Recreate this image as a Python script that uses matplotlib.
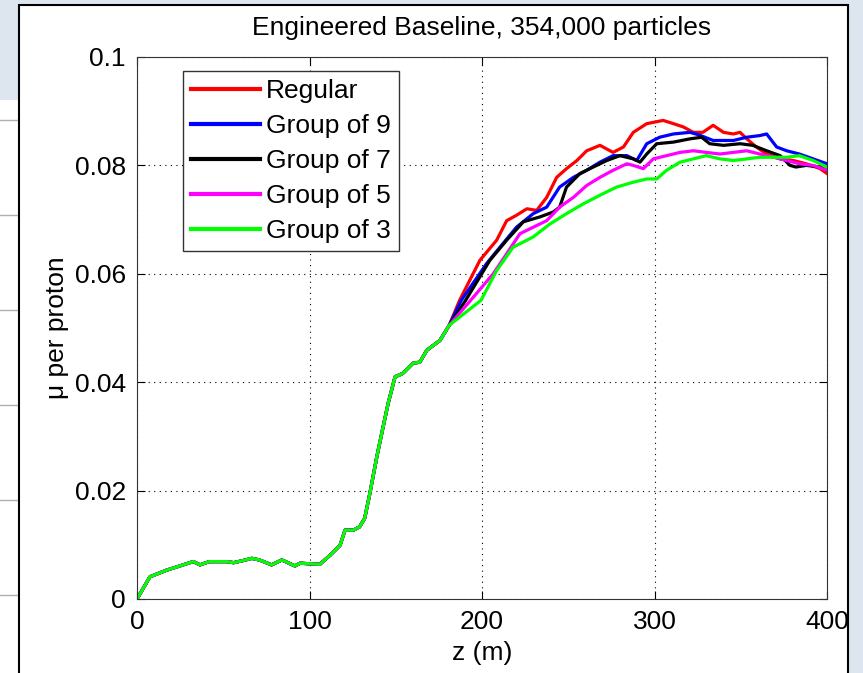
import matplotlib.pyplot as plt
import matplotlib.patches as patches

plt.rcParams['font.family'] = ['Liberation Sans', 'DejaVu Sans']

# shared part of every curve (all runs identical before ~z=175 m)
z_common = [0, 7.5, 17, 32.6, 36.5, 42, 52, 56, 61.6, 66.5, 71, 78, 84, 91.6, 94.5, 106,
            112, 117.7, 120.6, 125.4, 129, 132, 135, 139, 142.7, 145.6, 149.6, 154, 160,
            164, 168, 175.6, 181]
y_common = [0, 0.0041, 0.0053, 0.0069, 0.0063, 0.0069, 0.0069, 0.0067, 0.0071, 0.0075,
            0.0072, 0.0063, 0.0072, 0.0061, 0.0066, 0.0064, 0.0081, 0.0099, 0.0127, 0.0127,
            0.0133, 0.0149, 0.0195, 0.0262, 0.0318, 0.0361, 0.0410, 0.0416, 0.0435, 0.0437,
            0.0459, 0.0477, 0.0505]

z_regular = [187, 198.8, 208.5, 214.3, 220, 226, 231.7, 237.5, 243.3, 249, 255, 260.7, 268.4,
             276, 282, 287.7, 295.5, 305, 311, 316.7, 322.5, 328, 334, 340, 345.7, 349.6,
             353.5, 359, 365, 372.8, 380.5, 388, 396, 400]
y_regular = [0.0551, 0.0625, 0.0662, 0.0698, 0.0708, 0.0720, 0.0717, 0.0741, 0.0778, 0.0794,
             0.0809, 0.0827, 0.0837, 0.0824, 0.0834, 0.0861, 0.0877, 0.0883, 0.0877, 0.0871,
             0.0861, 0.0861, 0.0874, 0.0861, 0.0858, 0.0861, 0.0849, 0.0834, 0.0821, 0.0812,
             0.0809, 0.0803, 0.0794, 0.0785]

z_g9 = [188, 202.7, 210.4, 220, 229.7, 237.5, 245, 253, 260.7, 268.4, 276, 284, 289.7, 295.5,
        303, 311, 320.6, 326, 334, 345.7, 353.5, 361, 365, 370.8, 376.6, 384, 392, 400]
y_g9 = [0.0551, 0.0619, 0.0649, 0.0686, 0.0711, 0.0723, 0.0760, 0.0778, 0.0791, 0.0806,
        0.0818, 0.0818, 0.0809, 0.0840, 0.0852, 0.0858, 0.0861, 0.0856, 0.0846, 0.0846,
        0.0852, 0.0855, 0.0858, 0.0834, 0.0827, 0.0821, 0.0812, 0.0803]

z_g7 = [190.5, 204.6, 214.3, 224, 233.6, 241.3, 245, 249, 256.8, 264.5, 272.3, 280, 287.7,
        291.6, 295.5, 301.3, 311, 320.6, 327.3, 332, 340, 349.6, 357, 365, 372.8, 378.6,
        382, 388, 396, 400]
y_g7 = [0.0551, 0.0625, 0.0662, 0.0696, 0.0705, 0.0714, 0.0723, 0.0760, 0.0785, 0.0797,
        0.0809, 0.0818, 0.0812, 0.0806, 0.0821, 0.0840, 0.0843, 0.0849, 0.0852, 0.0840,
        0.0837, 0.0840, 0.0837, 0.0827, 0.0818, 0.0800, 0.0797, 0.0800, 0.0797, 0.0791]

z_g5 = [193.4, 206.5, 214.3, 222, 229.7, 237.5, 245, 253, 260.7, 268.4, 276, 284, 287.7,
        293.5, 299.3, 307, 314.8, 322.5, 330, 338, 345.7, 353.5, 361, 369, 376.6, 384, 392, 400]
y_g5 = [0.0551, 0.0600, 0.0637, 0.0674, 0.0686, 0.0698, 0.0723, 0.0741, 0.0763, 0.0778,
        0.0791, 0.0803, 0.0800, 0.0794, 0.0812, 0.0818, 0.0824, 0.0827, 0.0824, 0.0821,
        0.0824, 0.0827, 0.0821, 0.0815, 0.0809, 0.0803, 0.0800, 0.0791]

z_g3 = [199.4, 208.5, 218, 229.7, 239.4, 249, 258.7, 268.4, 278, 287.7, 295.5, 301.3, 307,
        314.8, 322.5, 330, 338, 345.7, 353.5, 361, 369, 376.6, 384, 392, 400]
y_g3 = [0.0551, 0.0606, 0.0649, 0.0668, 0.0692, 0.0711, 0.0729, 0.0745, 0.0760, 0.0769,
        0.0775, 0.0775, 0.0791, 0.0806, 0.0812, 0.0818, 0.0812, 0.0809, 0.0812, 0.0815,
        0.0815, 0.0815, 0.0818, 0.0809, 0.0797]

labels = ['Regular', 'Group of 9', 'Group of 7', 'Group of 5', 'Group of 3']
colors = ['#ff0000', '#0000ff', '#000000', '#ff00ff', '#00ff00']

fs = 19

fig = plt.figure(figsize=(8.63, 6.73), dpi=100)
fig.patch.set_facecolor('#dde6ee')

# slide background bits and the white figure panel
fig.patches.append(patches.Rectangle((0, 0), 19 / 863, 573 / 673, transform=fig.transFigure,
                                     facecolor='white', edgecolor='none', zorder=0))
for yy in [120, 215, 310, 405, 500, 595]:
    fig.lines.append(plt.Line2D([0, 19 / 863], [1 - yy / 673] * 2, transform=fig.transFigure,
                                color='#b0b0b0', lw=1, zorder=0.5))
fig.patches.append(patches.Rectangle((19 / 863, -0.05), 829 / 863, 1.05 - 5 / 673,
                                     transform=fig.transFigure, facecolor='white',
                                     edgecolor='black', lw=1.5, zorder=1))

ax = fig.add_axes([137 / 863, 74 / 673, 690 / 863, 542 / 673])
ax.set_zorder(2)

series = [(z_regular, y_regular), (z_g9, y_g9), (z_g7, y_g7), (z_g5, y_g5), (z_g3, y_g3)]
for (zz, yy), lab, c in zip(series, labels, colors):
    ax.plot(z_common + zz, y_common + yy, color=c, lw=2.3, label=lab)

ax.set_xlim(0, 400)
ax.set_ylim(0, 0.1)
ax.set_xticks([0, 100, 200, 300, 400])
ax.set_yticks([0, 0.02, 0.04, 0.06, 0.08, 0.1])
ax.set_yticklabels(['0', '0.02', '0.04', '0.06', '0.08', '0.1'])
ax.grid(True, color='black', linestyle=(0, (1, 4)), lw=0.8)
ax.tick_params(direction='in', top=True, right=True, labelsize=fs, length=6, pad=8)
for s in ax.spines.values():
    s.set_color('#333333')

ax.set_title('Engineered Baseline, 354,000 particles', fontsize=fs, pad=16)
ax.set_xlabel('z (m)', fontsize=fs, labelpad=5)
ax.set_ylabel('μ per proton', fontsize=fs, labelpad=4)

leg = ax.legend(loc='upper left', bbox_to_anchor=(0.0667, 0.974), borderaxespad=0,
                fontsize=fs, fancybox=False, edgecolor='#333333', framealpha=1,
                handlelength=2.6, handletextpad=0.25, labelspacing=0.42, borderpad=0.3)
for ln in leg.get_lines():
    ln.set_linewidth(3)

fig.savefig('out.png', dpi=100, facecolor=fig.get_facecolor())
